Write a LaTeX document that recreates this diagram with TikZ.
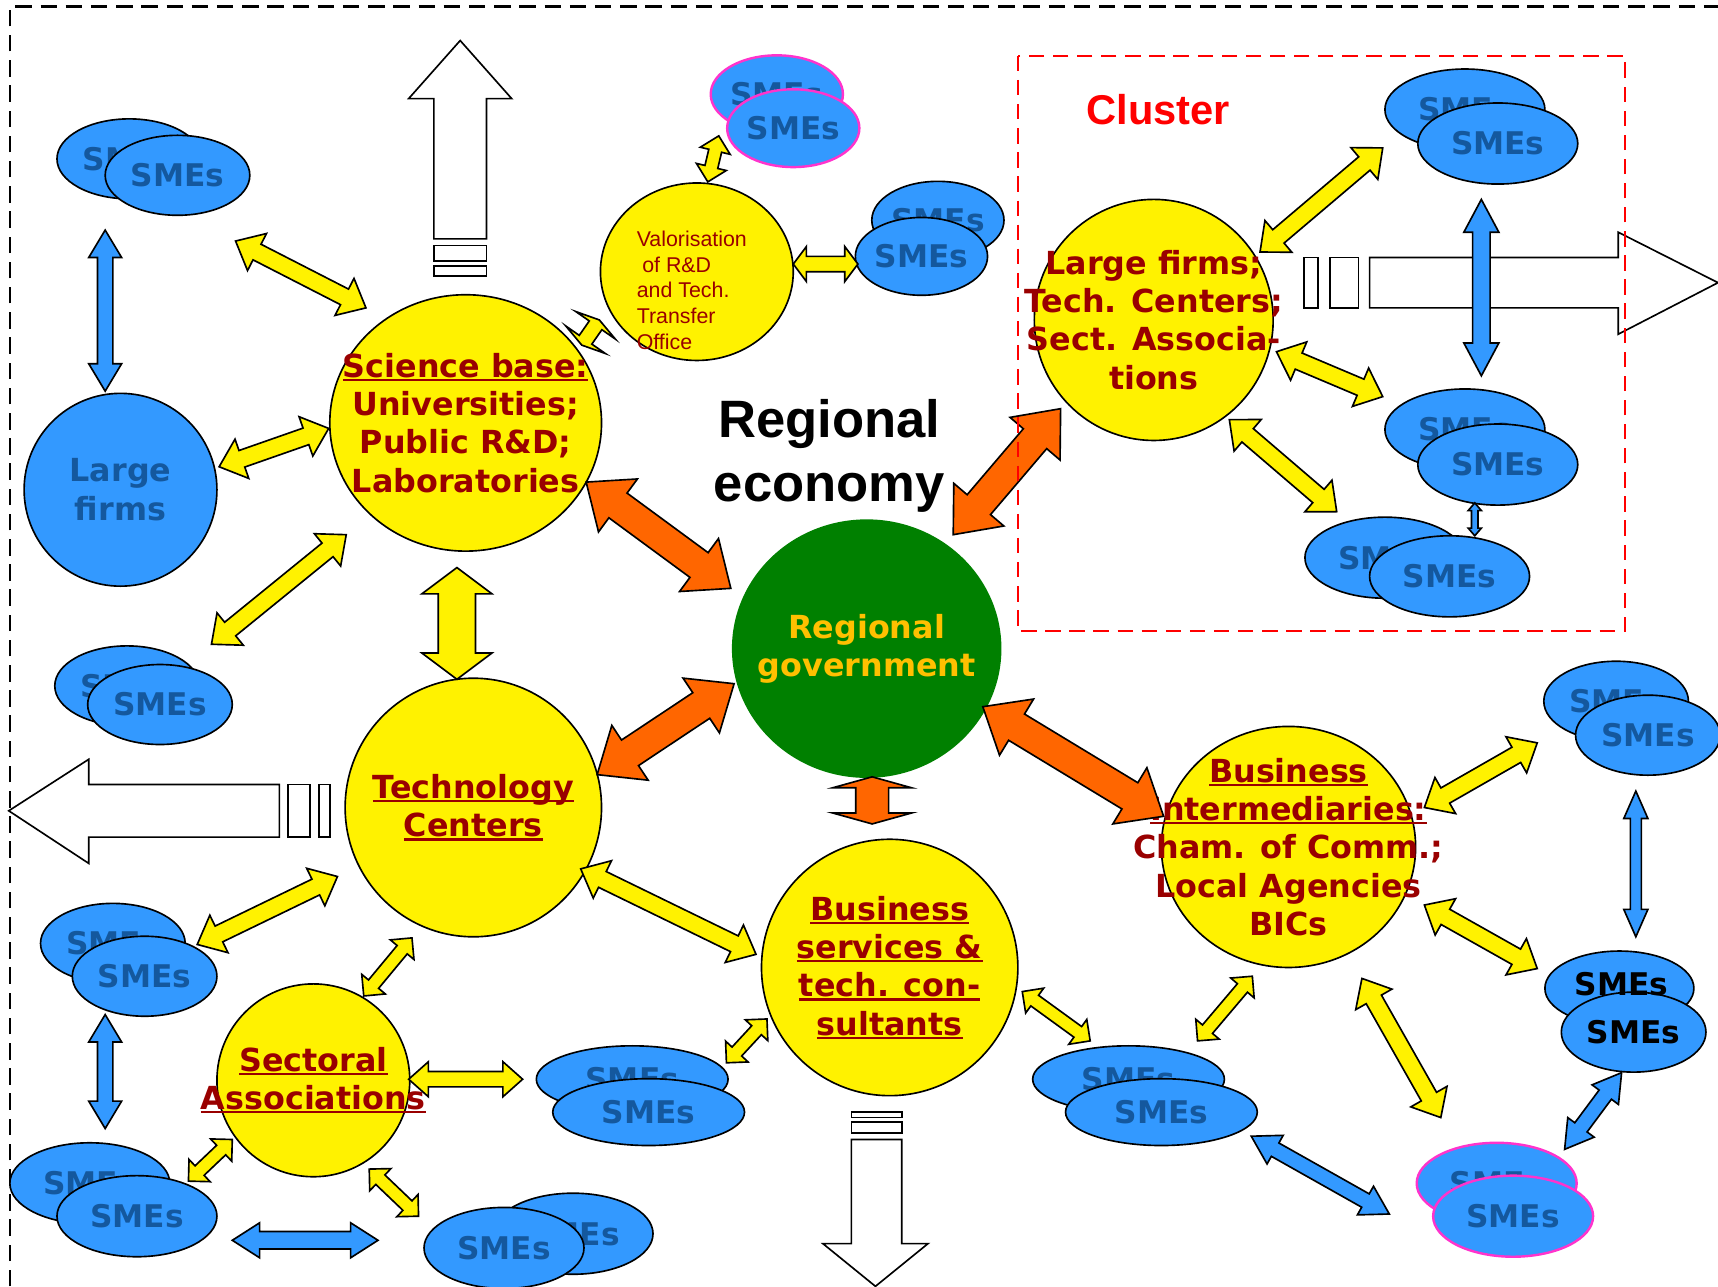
\documentclass[tikz,border=0pt]{standalone}
\usepackage{fontspec}
\usepackage{tikz}
\usetikzlibrary{calc,shapes.geometric}
\newfontfamily\verd{DejaVu Sans}
\newfontfamily\arial{Liberation Sans}
\definecolor{hubred}{RGB}{153,0,0}
\definecolor{smeblue}{RGB}{51,153,255}
\definecolor{smetext}{RGB}{20,88,158}
\definecolor{govgreen}{RGB}{0,128,0}
\definecolor{govgold}{RGB}{255,192,0}
\definecolor{govorange}{RGB}{255,102,0}
\definecolor{smepink}{RGB}{255,51,204}
\tikzset{dims/.code args={#1/#2/#3}{\def\shafthw{#1}\def\headhw{#2}\def\headlen{#3}}}
\newcommand{\ulined}[1]{\leavevmode\setbox0\hbox{#1}\rlap{\rule[-3.5pt]{\wd0}{2pt}}\box0}
\newcommand{\twoway}[5][yarrow]{%
  \draw[#1] let \p1=($(#2)+(#3)$), \p2=($(#4)+(#5)$),
    \n1={atan2(\y2-\y1,\x2-\x1)} in
    (\p1) -- ($(\p1)+(\n1:\headlen)+(\n1+90:\headhw)$)
    -- ($(\p1)+(\n1:\headlen)+(\n1+90:\shafthw)$)
    -- ($(\p2)+(\n1+180:\headlen)+(\n1+90:\shafthw)$)
    -- ($(\p2)+(\n1+180:\headlen)+(\n1+90:\headhw)$)
    -- (\p2)
    -- ($(\p2)+(\n1+180:\headlen)+(\n1-90:\headhw)$)
    -- ($(\p2)+(\n1+180:\headlen)+(\n1-90:\shafthw)$)
    -- ($(\p1)+(\n1:\headlen)+(\n1-90:\shafthw)$)
    -- ($(\p1)+(\n1:\headlen)+(\n1-90:\headhw)$) -- cycle;}

\begin{document}
\begin{tikzpicture}[
x=1pt,y=-1pt,
hub/.style={ellipse, draw, line width=1.5pt, fill=yellow, text=hubred, align=center, inner sep=-90pt, font=\verd\bfseries\fontsize{29}{35}\selectfont},
valnote/.style={text=hubred, align=left, inner sep=0pt, font=\arial\fontsize{19.5}{23.4}\selectfont},
sme/.style={ellipse, draw, line width=1.5pt, fill=smeblue, text=smetext, inner sep=0pt, minimum width=132pt, minimum height=73pt, font=\verd\bfseries\fontsize{28.5}{34}\selectfont},
smew/.style={sme, minimum width=146pt, minimum height=74pt},
smesm/.style={sme, minimum width=117pt, minimum height=71pt},
smeflat/.style={sme, minimum width=175pt, minimum height=61pt},
pinkrim/.style={draw=smepink, line width=2.2pt},
outflow/.style={draw, line width=1.5pt, fill=white, line join=miter},
arrowbody/.style={draw, line width=1.5pt, line join=miter},
yarrow/.style={arrowbody, fill=yellow, dims=8pt/19pt/22pt},
ysmall/.style={arrowbody, fill=yellow, dims=6pt/14pt/14pt},
barrow/.style={arrowbody, fill=smeblue, dims=7pt/15pt/25pt},
oarrow/.style={arrowbody, fill=govorange, dims=14pt/30pt/36pt},
border/.style={line width=2.4pt, dash pattern=on 15pt off 8pt}
]
\useasboundingbox (0,0) rectangle (1568,1174);
\draw[border] (9,1174) -- (9,6) -- (1568,6);

\draw[outflow] (420,37) -- (467,90) -- (444,90) -- (444,218) -- (396,218) -- (396,90) -- (373,90) -- cycle;
\draw[outflow] (396,224) rectangle (444,238);
\draw[outflow] (396,243) rectangle (444,252);
\draw[outflow] (1568,258) -- (1477,305) -- (1477,281) -- (1250,281) -- (1250,235) -- (1477,235) -- (1477,212) -- cycle;
\draw[outflow] (1190,235) rectangle (1203,281);
\draw[outflow] (1214,235) rectangle (1240,281);
\draw[outflow] (8,740) -- (81,693) -- (81,716) -- (255,716) -- (255,764) -- (81,764) -- (81,788) -- cycle;
\draw[outflow] (263,716) rectangle (283,764);
\draw[outflow] (291,716) rectangle (301,764);
\draw[outflow] (799,1174) -- (751,1135) -- (777,1135) -- (777,1040) -- (823,1040) -- (823,1135) -- (847,1135) -- cycle;
\draw[outflow] (777,1015) rectangle (823,1020);
\draw[outflow] (777,1024) rectangle (823,1034);

\node[sme] (smeNWb) at (118,145) {SMEs};
\node[sme] (smeNW) at (162,160) {SMEs};
\node[smesm, pinkrim] (smeTopb) at (709,86) {SMEs};
\node[smesm, pinkrim] (smeTop) at (724,117) {SMEs};
\node[smesm] (smeValb) at (856,201) {SMEs};
\node[smesm] (smeVal) at (841,234) {SMEs};
\node[smew] (smeC1b) at (1337,100) {SMEs};
\node[smew] (smeC1) at (1367,131) {SMEs};
\node[smew] (smeC2b) at (1337,392) {SMEs};
\node[smew] (smeC2) at (1367,424) {SMEs};
\node[smew] (smeC3b) at (1264,509) {SMEs};
\node[smew] (smeC3) at (1323,526) {SMEs};
\node[sme] (smeWb) at (116,626) {SMEs};
\node[sme] (smeW) at (146,643) {SMEs};
\node[sme] (smeSWb) at (103,861) {SMEs};
\node[sme] (smeSW) at (132,891) {SMEs};
\node[smew] (smeBLb) at (82,1080) {SMEs};
\node[smew] (smeBL) at (125,1110) {SMEs};
\node[smew] (smeBb) at (523,1126) {SMEs};
\node[smew] (smeB) at (460,1139) {SMEs};
\node[smeflat] (smeSAb) at (577,985) {SMEs};
\node[smeflat] (smeSA) at (592,1015) {SMEs};
\node[smeflat] (smeBSb) at (1030,985) {SMEs};
\node[smeflat] (smeBS) at (1060,1015) {SMEs};
\node[sme] (smeE1b) at (1475,640) {SMEs};
\node[sme] (smeE1) at (1504,671) {SMEs};
\node[sme, minimum width=136pt, minimum height=68pt] (smeE2b) at (1478,902) {};
\node[sme, text=black] (smeE2) at (1491,942) {SMEs};
\node[sme, draw=none, fill=none, text=black] (smeE2t) at (1480,898) {SMEs};
\node[smew, pinkrim] (smeSEb) at (1366,1080) {SMEs};
\node[smew, pinkrim] (smeSE) at (1381,1110) {SMEs};

\node[hub, fill=smeblue, text=smetext, minimum width=176pt, minimum height=176pt] (LF) at (110,447) {Large\\firms};
\node[hub, minimum width=248pt, minimum height=234pt] (SB) at (425,386) {\ulined{Science base:}\\Universities;\\Public R\&D;\\Laboratories};
\node[hub, minimum width=176pt, minimum height=162pt] (VAL) at (636,248) {};
\node[valnote, anchor=west] (valtext) at ($(VAL)+(-55,17)$) {Valorisation\\\hspace*{5pt}of R\&D\\and Tech.\\Transfer\\Office};
\node[hub, minimum width=218pt, minimum height=220pt] (LFC) at (1053,292) {Large firms;\\Tech. Centers;\\Sect. Associa-\\tions};
\node[hub, minimum width=234pt, minimum height=236pt] (TC) at (432,737) {\ulined{Technology}\\\ulined{Centers}};
\node[hub, minimum width=234pt, minimum height=234pt] (BS) at (812,883) {\ulined{Business}\\\ulined{services \&}\\\ulined{tech. con-}\\\ulined{sultants}};
\node[hub, minimum width=232pt, minimum height=220pt] (BI) at (1176,773) {\ulined{Business}\\\ulined{Intermediaries:}\\Cham. of Comm.;\\Local Agencies\\BICs};
\node[hub, minimum width=176pt, minimum height=176pt] (SA) at (286,986) {\ulined{Sectoral}\\\ulined{Associations}};
\node[hub, fill=govgreen, draw=none, text=govgold, minimum width=246pt, minimum height=236pt] (RG) at (791,592) {Regional\\government};
\node[align=center, font=\arial\bfseries\fontsize{48}{58}\selectfont] (econ) at (757,416) {Regional\\economy};

\twoway{smeNW}{53,60}{SB}{-91,-105}
\twoway{LF}{90,-21}{SB}{-125,5}
\twoway{smeW}{47,-55}{SB}{-109,102}
\twoway[yarrow, dims=17pt/32pt/24pt]{SB}{-8,132}{TC}{-15,-117}
\twoway[yarrow, dims=7pt/22pt/6pt]{SB}{106,-71}{VAL}{-89,44}
\twoway[ysmall]{VAL}{10,-82}{smeTop}{-68,7}
\twoway[ysmall, dims=7pt/16pt/12pt]{VAL}{88,-7}{smeVal}{-58,7}
\twoway{LFC}{97,-62}{smeC1}{-105,4}
\twoway{LFC}{112,29}{smeC2}{-105,-62}
\twoway{LFC}{69,91}{smeC3}{-103,-59}
\twoway{smeSW}{48,-29}{TC}{-124,63}
\twoway[ysmall]{SA}{46,-77}{TC}{-56,119}
\twoway{TC}{98,56}{BS}{-122,-12}
\twoway[ysmall, dims=7pt/16pt/18pt]{SA}{87,-1}{smeSA}{-115,-30}
\twoway[ysmall]{smeBL}{47,-32}{SA}{-74,54}
\twoway[ysmall]{SA}{51,81}{smeB}{-78,-29}
\twoway[ysmall]{smeSA}{71,-45}{BS}{-112,47}
\twoway[ysmall]{BS}{121,22}{smeBS}{-65,-65}
\twoway[ysmall]{smeBS}{33,-65}{BI}{-33,118}
\twoway{BI}{67,120}{smeSE}{-66,-90}
\twoway{BI}{124,-36}{smeE1}{-101,7}
\twoway{BI}{124,53}{smeE2}{-88,-58}

\twoway[barrow]{smeNW}{-66,50}{LF}{-14,-90}
\twoway[barrow, dims=8pt/16pt/30pt]{smeC1}{-15,51}{smeC2}{-15,-81}
\twoway[barrow, dims=3pt/6pt/7pt]{smeC2}{-21,35}{smeC3}{23,-37}
\twoway[barrow]{smeSW}{-36,35}{smeBL}{-29,-80}
\twoway[barrow, dims=8pt/16pt/25pt]{smeBL}{87,22}{smeB}{-115,-7}
\twoway[barrow]{smeBS}{82,22}{smeSE}{-113,-2}
\twoway[barrow, dims=5pt/11pt/25pt]{smeE1}{-11,51}{smeE2}{2,-87}
\twoway[barrow]{smeE2}{-11,37}{smeSE}{47,-61}

\twoway[oarrow]{SB}{110,54}{RG}{-124,-55}
\twoway[oarrow]{RG}{79,-104}{LFC}{-85,81}
\twoway[oarrow]{TC}{113,-30}{RG}{-121,32}
\twoway[oarrow]{RG}{106,53}{BI}{-114,-28}
\twoway[oarrow, dims=15pt/36pt/10pt]{RG}{5,117}{BS}{-16,-131}

\node[text=red, font=\arial\bfseries\fontsize{38}{44}\selectfont] (cluster) at (1057,100) {Cluster};
\draw[red, line width=2.4pt, dash pattern=on 14pt off 8pt] (929,51) rectangle (1483,576);
\end{tikzpicture}
\end{document}
